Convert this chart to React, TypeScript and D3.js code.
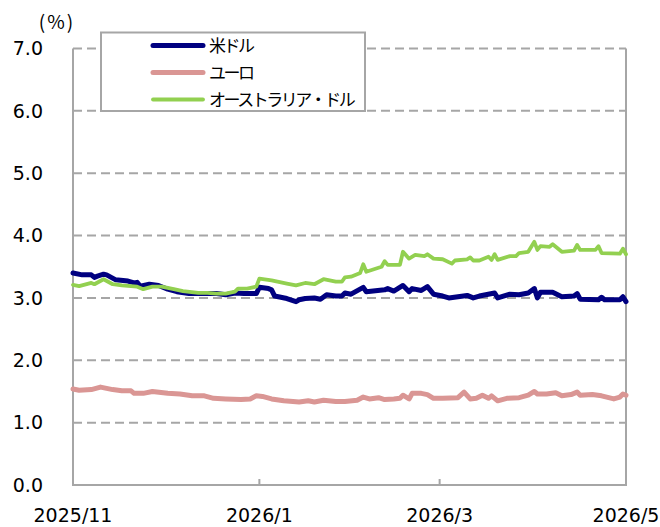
import React, { useEffect, useRef } from 'react';
import * as d3 from 'd3';

// 米ドル
const usdData: [string, number][] = [
  ['2025-11-01', 3.40], ['2025-11-04', 3.37], ['2025-11-07', 3.37], ['2025-11-08', 3.33],
  ['2025-11-09', 3.35], ['2025-11-11', 3.38], ['2025-11-12', 3.37], ['2025-11-15', 3.29],
  ['2025-11-19', 3.27], ['2025-11-21', 3.24], ['2025-11-22', 3.25], ['2025-11-23', 3.19],
  ['2025-11-26', 3.22], ['2025-11-29', 3.20], ['2025-12-02', 3.14], ['2025-12-05', 3.10],
  ['2025-12-09', 3.07], ['2025-12-14', 3.07], ['2025-12-18', 3.07], ['2025-12-21', 3.05],
  ['2025-12-24', 3.08], ['2025-12-27', 3.07], ['2025-12-31', 3.07], ['2026-01-01', 3.17],
  ['2026-01-04', 3.15], ['2026-01-05', 3.13], ['2026-01-06', 3.03], ['2026-01-10', 2.99],
  ['2026-01-13', 2.94], ['2026-01-14', 2.97], ['2026-01-16', 2.99], ['2026-01-19', 3.00],
  ['2026-01-21', 2.98], ['2026-01-23', 3.05], ['2026-01-26', 3.03], ['2026-01-28', 3.03],
  ['2026-01-29', 3.08], ['2026-01-31', 3.06], ['2026-02-04', 3.17], ['2026-02-05', 3.10],
  ['2026-02-11', 3.13], ['2026-02-12', 3.15], ['2026-02-14', 3.11], ['2026-02-17', 3.20],
  ['2026-02-19', 3.10], ['2026-02-20', 3.15], ['2026-02-23', 3.12], ['2026-02-25', 3.18],
  ['2026-02-27', 3.06], ['2026-03-02', 3.03], ['2026-03-04', 3.00], ['2026-03-07', 3.02],
  ['2026-03-10', 3.04], ['2026-03-12', 3.00], ['2026-03-14', 3.03], ['2026-03-19', 3.08],
  ['2026-03-20', 3.00], ['2026-03-24', 3.06], ['2026-03-27', 3.05], ['2026-03-30', 3.08],
  ['2026-04-01', 3.15], ['2026-04-02', 3.00], ['2026-04-03', 3.09], ['2026-04-07', 3.09],
  ['2026-04-10', 3.02], ['2026-04-14', 3.03], ['2026-04-15', 3.07], ['2026-04-16', 2.98],
  ['2026-04-22', 2.97], ['2026-04-23', 3.01], ['2026-04-24', 2.97], ['2026-04-29', 2.97],
  ['2026-04-30', 3.02], ['2026-05-01', 2.94],
];

// ユーロ
const eurData: [string, number][] = [
  ['2025-11-01', 1.54], ['2025-11-03', 1.52], ['2025-11-07', 1.53], ['2025-11-10', 1.57],
  ['2025-11-14', 1.53], ['2025-11-17', 1.51], ['2025-11-20', 1.51], ['2025-11-21', 1.47],
  ['2025-11-24', 1.47], ['2025-11-27', 1.50], ['2025-12-02', 1.47], ['2025-12-06', 1.46],
  ['2025-12-10', 1.43], ['2025-12-14', 1.43], ['2025-12-17', 1.39], ['2025-12-21', 1.38],
  ['2025-12-26', 1.37], ['2025-12-29', 1.38], ['2025-12-31', 1.43], ['2026-01-02', 1.42],
  ['2026-01-05', 1.38], ['2026-01-09', 1.35], ['2026-01-14', 1.33], ['2026-01-17', 1.35],
  ['2026-01-19', 1.33], ['2026-01-22', 1.36], ['2026-01-26', 1.34], ['2026-01-29', 1.34],
  ['2026-02-02', 1.36], ['2026-02-04', 1.41], ['2026-02-06', 1.38], ['2026-02-09', 1.40],
  ['2026-02-11', 1.37], ['2026-02-14', 1.38], ['2026-02-16', 1.39], ['2026-02-17', 1.44],
  ['2026-02-19', 1.38], ['2026-02-20', 1.47], ['2026-02-23', 1.47], ['2026-02-25', 1.45],
  ['2026-02-27', 1.39], ['2026-03-02', 1.39], ['2026-03-07', 1.40], ['2026-03-09', 1.49],
  ['2026-03-11', 1.38], ['2026-03-13', 1.39], ['2026-03-15', 1.44], ['2026-03-17', 1.39],
  ['2026-03-18', 1.43], ['2026-03-20', 1.35], ['2026-03-23', 1.39], ['2026-03-27', 1.40],
  ['2026-03-30', 1.44], ['2026-04-01', 1.50], ['2026-04-02', 1.46], ['2026-04-05', 1.46],
  ['2026-04-08', 1.48], ['2026-04-10', 1.43], ['2026-04-13', 1.45], ['2026-04-15', 1.49],
  ['2026-04-16', 1.44], ['2026-04-20', 1.45], ['2026-04-23', 1.43], ['2026-04-27', 1.38],
  ['2026-04-29', 1.41], ['2026-04-30', 1.46], ['2026-05-01', 1.44],
];

// オーストラリア・ドル
const audData: [string, number][] = [
  ['2025-11-01', 3.21], ['2025-11-03', 3.19], ['2025-11-07', 3.24], ['2025-11-08', 3.22],
  ['2025-11-11', 3.30], ['2025-11-14', 3.22], ['2025-11-17', 3.20], ['2025-11-22', 3.18],
  ['2025-11-24', 3.14], ['2025-11-27', 3.18], ['2025-11-30', 3.18], ['2025-12-04', 3.14],
  ['2025-12-07', 3.11], ['2025-12-12', 3.08], ['2025-12-15', 3.08], ['2025-12-18', 3.07],
  ['2025-12-21', 3.07], ['2025-12-24', 3.10], ['2025-12-25', 3.15], ['2025-12-28', 3.15],
  ['2025-12-31', 3.18], ['2026-01-01', 3.31], ['2026-01-05', 3.28], ['2026-01-10', 3.23],
  ['2026-01-13', 3.20], ['2026-01-16', 3.24], ['2026-01-19', 3.22], ['2026-01-22', 3.30],
  ['2026-01-26', 3.26], ['2026-01-28', 3.26], ['2026-01-29', 3.33], ['2026-01-31', 3.34],
  ['2026-02-03', 3.40], ['2026-02-04', 3.54], ['2026-02-05', 3.42], ['2026-02-10', 3.50],
  ['2026-02-11', 3.59], ['2026-02-12', 3.53], ['2026-02-16', 3.53], ['2026-02-17', 3.74],
  ['2026-02-19', 3.63], ['2026-02-21', 3.69], ['2026-02-24', 3.67], ['2026-02-25', 3.70],
  ['2026-02-27', 3.63], ['2026-03-02', 3.62], ['2026-03-05', 3.55], ['2026-03-06', 3.60],
  ['2026-03-10', 3.62], ['2026-03-11', 3.65], ['2026-03-12', 3.60], ['2026-03-14', 3.60],
  ['2026-03-17', 3.66], ['2026-03-18', 3.61], ['2026-03-19', 3.70], ['2026-03-20', 3.61],
  ['2026-03-24', 3.67], ['2026-03-26', 3.67], ['2026-03-27', 3.72], ['2026-03-30', 3.74],
  ['2026-04-01', 3.90], ['2026-04-02', 3.77], ['2026-04-03', 3.83], ['2026-04-06', 3.82],
  ['2026-04-07', 3.86], ['2026-04-10', 3.74], ['2026-04-14', 3.76], ['2026-04-15', 3.85],
  ['2026-04-16', 3.77], ['2026-04-21', 3.77], ['2026-04-22', 3.83], ['2026-04-23', 3.72],
  ['2026-04-29', 3.71], ['2026-04-30', 3.79], ['2026-05-01', 3.70],
];

const yTicks = [0, 1, 2, 3, 4, 5, 6, 7];
const xTicks = ['2025-11-01', '2026-01-01', '2026-03-01', '2026-05-01'];
const xTickLabels = ['2025/11', '2026/1', '2026/3', '2026/5'];

const seriesList = [
  { name: '米ドル', data: usdData, color: '#000080', width: 5 },
  { name: 'ユーロ', data: eurData, color: '#DA9694', width: 5 },
  { name: 'オーストラリア・ドル', data: audData, color: '#92D050', width: 3.8 },
];

const App: React.FC = () => {
  const svgRef = useRef<SVGSVGElement>(null);

  useEffect(() => {
    document.body.style.margin = '0';
    if (!svgRef.current) return;
    const svg = d3.select(svgRef.current);
    svg.selectAll('*').remove();

    const parse = d3.timeParse('%Y-%m-%d');
    const left = 73, right = 626, top = 48.5, bottom = 485;
    const x = d3.scaleTime()
      .domain([parse('2025-11-01')!, parse('2026-05-01')!])
      .range([left, right]);
    const y = d3.scaleLinear().domain([0, 7]).range([bottom, top]);

    const axisColor = '#A6A6A6';
    const numFont = '"DejaVu Sans", Verdana, sans-serif';
    const jpFont = '"Noto Sans CJK JP", sans-serif';

    // gridlines
    svg.append('g')
      .selectAll('line')
      .data(yTicks.filter(t => t > 0))
      .join('line')
      .attr('x1', left)
      .attr('x2', right)
      .attr('y1', d => y(d))
      .attr('y2', d => y(d))
      .attr('stroke', axisColor)
      .attr('stroke-width', 2)
      .attr('stroke-dasharray', '9,5');

    // frame: left, bottom, right
    svg.append('path')
      .attr('d', `M${left},${top}V${bottom}H${right}V${top}`)
      .attr('fill', 'none')
      .attr('stroke', axisColor)
      .attr('stroke-width', 2);

    // x ticks
    svg.append('g')
      .selectAll('line')
      .data(xTicks.slice(1, -1))
      .join('line')
      .attr('x1', d => x(parse(d)!))
      .attr('x2', d => x(parse(d)!))
      .attr('y1', bottom)
      .attr('y2', bottom - 6)
      .attr('stroke', axisColor)
      .attr('stroke-width', 2);

    // y labels
    svg.append('g')
      .selectAll('text')
      .data(yTicks)
      .join('text')
      .attr('x', 43)
      .attr('y', d => y(d))
      .attr('dy', '0.36em')
      .attr('text-anchor', 'end')
      .attr('font-family', numFont)
      .attr('font-size', 19)
      .attr('fill', '#000')
      .text(d => d.toFixed(1));

    svg.append('text')
      .attr('x', 57)
      .attr('y', 29)
      .attr('text-anchor', 'middle')
      .attr('font-family', jpFont)
      .attr('font-size', 19)
      .attr('letter-spacing', 2)
      .text('(%)');

    // x labels
    svg.append('g')
      .selectAll('text')
      .data(xTicks)
      .join('text')
      .attr('x', d => x(parse(d)!))
      .attr('y', 522)
      .attr('text-anchor', 'middle')
      .attr('font-family', numFont)
      .attr('font-size', 19)
      .text((d, i) => xTickLabels[i]);

    // lines
    const line = d3.line<[string, number]>()
      .x(d => x(parse(d[0])!))
      .y(d => y(d[1]));

    seriesList.forEach(s => {
      svg.append('path')
        .datum(s.data)
        .attr('d', line)
        .attr('fill', 'none')
        .attr('stroke', s.color)
        .attr('stroke-width', s.width)
        .attr('stroke-linejoin', 'round')
        .attr('stroke-linecap', 'round');
    });

    // legend
    const lg = svg.append('g');
    lg.append('rect')
      .attr('x', 101)
      .attr('y', 32.5)
      .attr('width', 264)
      .attr('height', 78.5)
      .attr('fill', '#fff')
      .attr('stroke', axisColor)
      .attr('stroke-width', 2);

    seriesList.forEach((s, i) => {
      const ly = 45.5 + i * 27;
      lg.append('line')
        .attr('x1', 153)
        .attr('x2', 203)
        .attr('y1', ly)
        .attr('y2', ly)
        .attr('stroke', s.color)
        .attr('stroke-width', s.width)
        .attr('stroke-linecap', 'round');
      lg.append('text')
        .attr('x', 209)
        .attr('y', ly)
        .attr('dy', '0.36em')
        .attr('font-family', jpFont)
        .attr('font-size', 17)
        .attr('letter-spacing', -2.5)
        .text(s.name);
    });
  }, []);

  return <svg ref={svgRef} width={660} height={527} style={{ display: 'block', background: '#fff' }} />;
};

export default App;
